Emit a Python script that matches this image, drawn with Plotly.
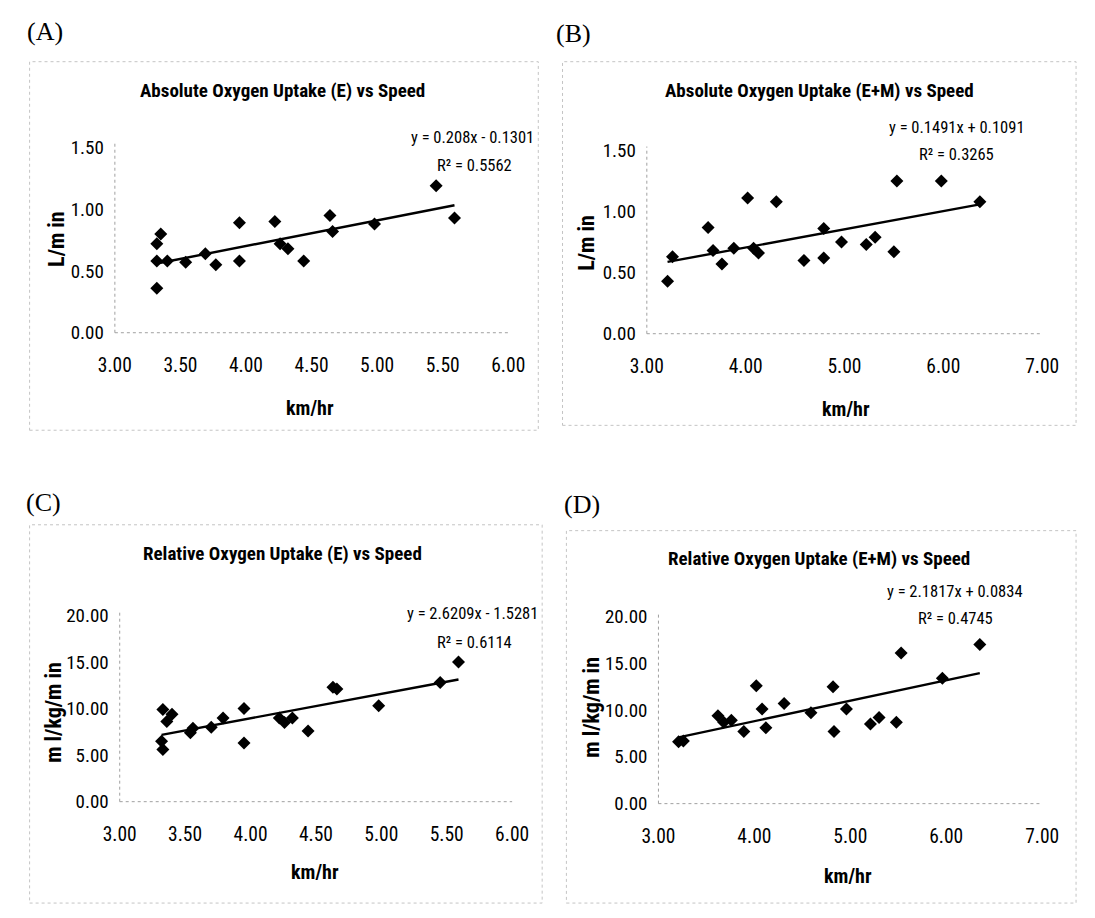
import plotly.graph_objects as go

W, H = 1095, 918

# ---------------- data ----------------
A_x = [3.32, 3.35, 3.32, 3.32, 3.40, 3.54, 3.69, 3.77, 3.95, 3.95, 4.22, 4.26, 4.32, 4.44, 4.64, 4.66, 4.98, 5.45, 5.59]
A_y = [0.72, 0.80, 0.58, 0.36, 0.58, 0.57, 0.64, 0.55, 0.89, 0.58, 0.90, 0.72, 0.68, 0.58, 0.95, 0.82, 0.88, 1.19, 0.93]

B_x = [3.21, 3.26, 3.62, 3.67, 3.76, 3.88, 4.02, 4.08, 4.13, 4.31, 4.59, 4.79, 4.79, 4.97, 5.22, 5.31, 5.50, 5.53, 5.98, 6.37]
B_y = [0.43, 0.63, 0.87, 0.68, 0.57, 0.70, 1.11, 0.70, 0.66, 1.08, 0.60, 0.86, 0.62, 0.75, 0.73, 0.79, 0.67, 1.25, 1.25, 1.08]

C_x = [3.33, 3.36, 3.40, 3.32, 3.33, 3.54, 3.56, 3.70, 3.79, 3.95, 3.95, 4.22, 4.26, 4.32, 4.44, 4.63, 4.66, 4.98, 5.45, 5.59]
C_y = [9.9, 8.6, 9.4, 6.5, 5.6, 7.4, 7.9, 8.0, 9.0, 10.0, 6.3, 9.0, 8.5, 9.0, 7.6, 12.3, 12.1, 10.3, 12.8, 15.0]

D_x = [3.21, 3.26, 3.62, 3.68, 3.76, 3.89, 4.02, 4.08, 4.12, 4.31, 4.59, 4.82, 4.83, 4.96, 5.21, 5.30, 5.48, 5.53, 5.96, 6.35]
D_y = [6.6, 6.7, 9.4, 8.7, 8.9, 7.7, 12.6, 10.1, 8.1, 10.7, 9.7, 12.5, 7.7, 10.1, 8.5, 9.2, 8.7, 16.1, 13.4, 17.0]

# trendline coefficients (slope, intercept), R^2 and equation text as printed
fits = {
    "A": (0.208, -0.1301, "0.5562", "y = 0.208x - 0.1301"),
    "B": (0.1491, 0.1091, "0.3265", "y = 0.1491x + 0.1091"),
    "C": (2.6209, -1.5281, "0.6114", "y = 2.6209x - 1.5281"),
    "D": (2.1817, 0.0834, "0.4745", "y = 2.1817x + 0.0834"),
}

titles = {
    "A": "Absolute Oxygen Uptake (E) vs Speed",
    "B": "Absolute Oxygen Uptake (E+M) vs Speed",
    "C": "Relative Oxygen Uptake (E) vs Speed",
    "D": "Relative Oxygen Uptake (E+M) vs Speed",
}
ylabels = {"A": "L/m in", "B": "L/m in", "C": "m l/kg/m in", "D": "m l/kg/m in"}
xlabel = "km/hr"

abs_ticks = [0.0, 0.5, 1.0, 1.5]
rel_ticks = [0, 5, 10, 15, 20]
x_ticks_E = [3.0, 3.5, 4.0, 4.5, 5.0, 5.5, 6.0]
x_ticks_EM = [3.0, 4.0, 5.0, 6.0, 7.0]

series = {"A": (A_x, A_y), "B": (B_x, B_y), "C": (C_x, C_y), "D": (D_x, D_y)}

# ---------------- layout geometry (pixels) ----------------
geom = {
    "A": dict(l=101, r=507, t=140, b=330, xr=[3, 6], yr=[0, 1.5], xt=x_ticks_E, yt=abs_ticks, axn=1),
    "B": dict(l=650, r=1058, t=143, b=331, xr=[3, 7], yr=[0, 1.5], xt=x_ticks_EM, yt=abs_ticks, axn=2),
    "C": dict(l=106, r=511, t=620, b=811, xr=[3, 6], yr=[0, 20], xt=x_ticks_E, yt=rel_ticks, axn=3),
    "D": dict(l=662, r=1058, t=621, b=813, xr=[3, 7], yr=[0, 20], xt=x_ticks_EM, yt=rel_ticks, axn=4),
}
text_pos = {
    "A": dict(title=(274, 82), eq=(470, 130), r2=(472, 158), ylab=(40, 234), xlab=(302, 407), lab=(8, 21)),
    "B": dict(title=(828, 82), eq=(970, 119), r2=(970, 147), ylab=(587, 238), xlab=(856, 408), lab=(554, 23)),
    "C": dict(title=(274, 556), eq=(470, 618), r2=(472, 648), ylab=(38, 719), xlab=(308, 883), lab=(7, 504)),
    "D": dict(title=(828, 562), eq=(968, 595), r2=(969, 623), ylab=(593, 714), xlab=(858, 887), lab=(562, 506)),
}
frames = {
    "A": (13, 52, 538, 430),
    "B": (563, 52, 1093, 425),
    "C": (13, 527, 542, 915),
    "D": (567, 533, 1093, 915),
}

NARROW = "Liberation Sans Narrow, Arial Narrow, Roboto Condensed, DejaVu Sans Condensed, sans-serif"
SERIF = "Liberation Serif, Times New Roman, serif"


def px(x):
    return x / W


def py(y):
    return 1 - y / H


fig = go.Figure()
annotations = []
shapes = []

for key in ["A", "B", "C", "D"]:
    g = geom[key]
    n = g["axn"]
    xa = "xaxis" if n == 1 else f"xaxis{n}"
    ya = "yaxis" if n == 1 else f"yaxis{n}"
    xref = "x" if n == 1 else f"x{n}"
    yref = "y" if n == 1 else f"y{n}"
    xs, ys = series[key]
    slope, icpt, r2, eq = fits[key]

    fig.add_trace(go.Scatter(
        x=xs, y=ys, mode="markers", xaxis=xref, yaxis=yref,
        marker=dict(symbol="diamond", size=10, color="black"),
        showlegend=False, cliponaxis=False))
    x0, x1 = min(xs), max(xs)
    fig.add_trace(go.Scatter(
        x=[x0, x1], y=[slope * x0 + icpt, slope * x1 + icpt], mode="lines",
        xaxis=xref, yaxis=yref, line=dict(color="black", width=2.4),
        showlegend=False, cliponaxis=False))

    fig.layout[xa] = dict(
        domain=[px(g["l"]), px(g["r"])], range=g["xr"], anchor=yref,
        tickvals=g["xt"], ticktext=[f"{v:.2f}" for v in g["xt"]],
        showgrid=False, zeroline=False, showline=False, ticks="",
        ticklabelstandoff=19,
        tickfont=dict(family=NARROW, size=19.5, color="black"), fixedrange=True)
    fig.layout[ya] = dict(
        domain=[py(g["b"]), py(g["t"])], range=g["yr"], anchor=xref,
        tickvals=g["yt"], ticktext=[f"{v:.2f}" for v in g["yt"]],
        showgrid=False, zeroline=False, showline=False, ticks="",
        ticklabelstandoff=10,
        tickfont=dict(family=NARROW, size=19, color="black"), fixedrange=True)

    # faint dotted axis lines (scanned Excel look)
    shapes.append(dict(type="line", xref="paper", yref="paper",
                       x0=px(g["l"]), x1=px(g["l"]), y0=py(g["b"]), y1=py(g["t"] - 4),
                       line=dict(color="#a0a0a0", width=1, dash="dot")))
    shapes.append(dict(type="line", xref="paper", yref="paper",
                       x0=px(g["l"]), x1=px(g["r"]), y0=py(g["b"]), y1=py(g["b"]),
                       line=dict(color="#a0a0a0", width=1, dash="dot")))
    # chart-area frame
    fl, ft, fr, fb = frames[key]
    shapes.append(dict(type="rect", xref="paper", yref="paper",
                       x0=px(fl), x1=px(fr), y0=py(fb), y1=py(ft),
                       line=dict(color="#c4c4c4", width=1, dash="dot")))

    tp = text_pos[key]
    annotations += [
        dict(x=px(tp["title"][0]), y=py(tp["title"][1]), xref="paper", yref="paper",
             text=f"<b>{titles[key]}</b>", showarrow=False, xanchor="center", yanchor="middle",
             font=dict(family=NARROW, size=19, color="black")),
        dict(x=px(tp["eq"][0]), y=py(tp["eq"][1]), xref="paper", yref="paper",
             text=eq, showarrow=False, xanchor="center", yanchor="middle",
             font=dict(family=NARROW, size=16.5, color="black")),
        dict(x=px(tp["r2"][0]), y=py(tp["r2"][1]), xref="paper", yref="paper",
             text=f"R\u00b2 = {r2}", showarrow=False, xanchor="center", yanchor="middle",
             font=dict(family=NARROW, size=16.5, color="black")),
        dict(x=px(tp["ylab"][0]), y=py(tp["ylab"][1]), xref="paper", yref="paper",
             text=f"<b>{ylabels[key]}</b>", showarrow=False, textangle=-90,
             xanchor="center", yanchor="middle",
             font=dict(family=NARROW, size=22, color="black")),
        dict(x=px(tp["xlab"][0]), y=py(tp["xlab"][1]), xref="paper", yref="paper",
             text=f"<b>{xlabel}</b>", showarrow=False, xanchor="center", yanchor="middle",
             font=dict(family=NARROW, size=20, color="black")),
        dict(x=px(tp["lab"][0]), y=py(tp["lab"][1]), xref="paper", yref="paper",
             text=f"({key})", showarrow=False, xanchor="left", yanchor="middle",
             font=dict(family=SERIF, size=26, color="black")),
    ]

fig.update_layout(
    width=W, height=H, margin=dict(l=0, r=0, t=0, b=0),
    paper_bgcolor="white", plot_bgcolor="white",
    annotations=annotations, shapes=shapes, showlegend=False,
)

fig.write_html("out.html", config={"displayModeBar": False})
